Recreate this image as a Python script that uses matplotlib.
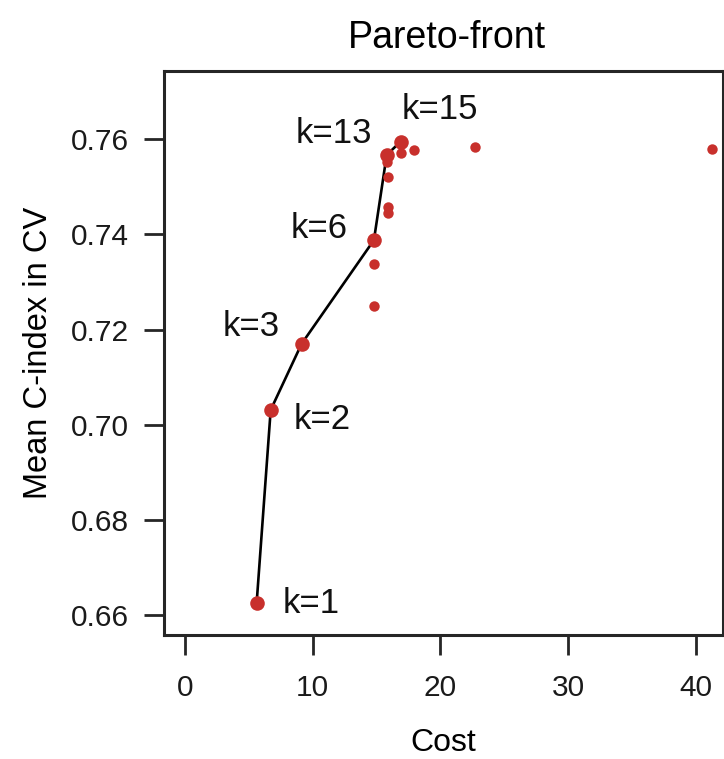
import numpy as np
import matplotlib
matplotlib.use("Agg")
import matplotlib.pyplot as plt

plt.rcParams['font.family'] = ['Liberation Sans', 'DejaVu Sans']

# all evaluated models: cost vs mean C-index
cost_all = [14.79, 14.79, 14.79, 15.91, 15.91, 15.91, 15.79, 16.88, 17.95, 22.68, 41.23]
cindex_all = [0.7250, 0.7338, 0.7388, 0.7445, 0.7458, 0.7521, 0.7552, 0.7571, 0.7578, 0.7583, 0.7580]

# models on the pareto front
front_k = [1, 2, 3, 6, 13, 15]
front_cost = [5.61, 6.71, 9.13, 14.79, 15.79, 16.88]
front_cindex = [0.6625, 0.7031, 0.7170, 0.7388, 0.7567, 0.7595]

# label offsets (pixels) and alignment for each k
label_off = [(26, 0), (23, -10), (-22, 17), (-26, 12), (-15, 21), (1, 32)]
label_ha = ['left', 'left', 'right', 'right', 'right', 'left']

red = '#C8302C'
dark = '#262626'

fig = plt.figure(figsize=(7.24, 7.59), dpi=100)
ax = fig.add_axes([164 / 724, 1 - 635 / 759, (723 - 164) / 724, (635 - 70.7) / 759])

ax.plot(front_cost, front_cindex, color='black', lw=1.9, zorder=2)
ax.plot(cost_all, cindex_all, 'o', color=red, ms=7.5, mec='none', zorder=3)
ax.plot(front_cost, front_cindex, 'o', color=red, ms=10.5, mec='none', zorder=3)

for k, x, y, off, ha in zip(front_k, front_cost, front_cindex, label_off, label_ha):
    ax.annotate(f'k={k}', (x, y), xytext=off, textcoords='offset pixels',
                ha=ha, va='center', fontsize=25, color='#111111')

ax.set_xlim(-1.64, 42.11)
ax.set_ylim(0.6558, 0.7744)
ax.set_xticks([0, 10, 20, 30, 40])
ax.set_yticks([0.66, 0.68, 0.70, 0.72, 0.74, 0.76])
ax.set_yticklabels(['0.66', '0.68', '0.70', '0.72', '0.74', '0.76'])

for s in ax.spines.values():
    s.set_linewidth(2.2)
    s.set_color(dark)
ax.tick_params(length=14.4, width=2.0, color=dark, labelsize=21.5, labelcolor='#1a1a1a')
ax.tick_params(axis='y', pad=10.8)
ax.tick_params(axis='x', pad=14)

ax.set_xlabel('Cost', fontsize=23, va='baseline')
ax.xaxis.set_label_coords(0.5, (635 - 751) / 564.3)
ax.set_ylabel('Mean C-index in CV', fontsize=23.5, va='baseline')
ax.yaxis.set_label_coords((47 - 164) / 559, 0.5)

fig.text(447 / 724, 1 - 48 / 759, 'Pareto-front', ha='center', va='baseline', fontsize=27)

fig.savefig('out.png', dpi=100)
